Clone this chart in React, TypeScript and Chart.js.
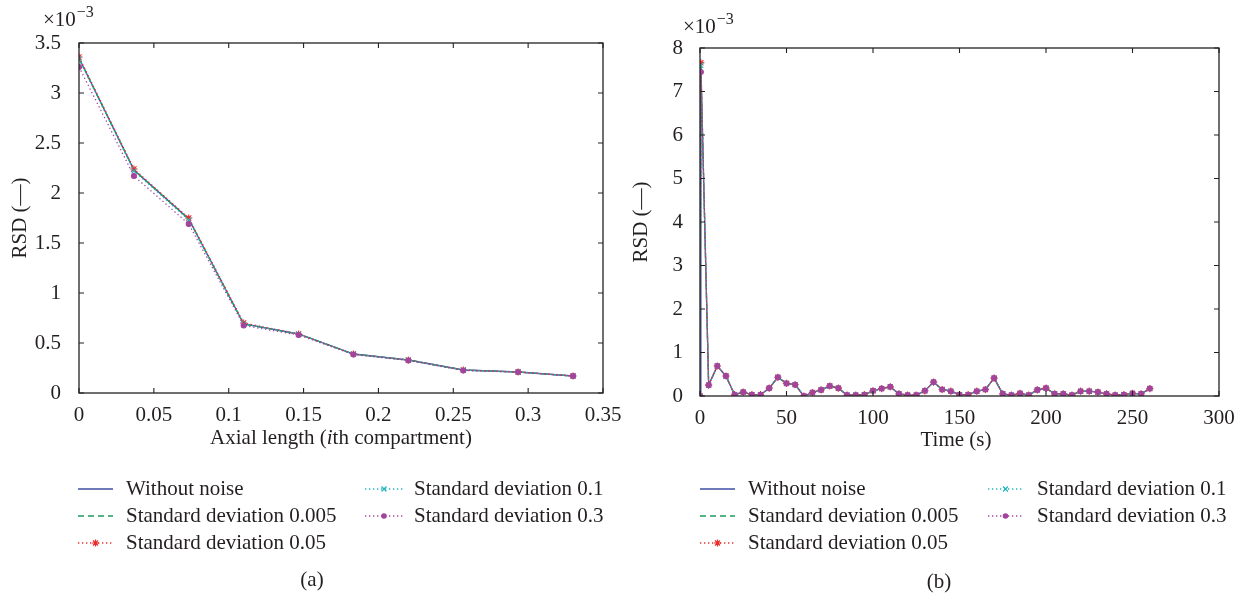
import React, { useEffect, useRef } from "react";
import { Chart, registerables } from "chart.js";

Chart.register(...registerables);

const SERIF = '"Liberation Serif", "Times New Roman", Times, serif';
const INK = "#231f20";

// ---------- shared series names ----------
const seriesNames = [
  "Without noise",
  "Standard deviation 0.005",
  "Standard deviation 0.05",
  "Standard deviation 0.1",
  "Standard deviation 0.3",
];

// ---------- panel (a): RSD (x10^-3) vs axial length ----------
const axialLength = [0, 0.0367, 0.0733, 0.11, 0.1467, 0.1833, 0.22, 0.2567, 0.2933, 0.33];
const rsdA_withoutNoise = [3.35, 2.23, 1.74, 0.69, 0.59, 0.39, 0.33, 0.23, 0.21, 0.17];
const rsdA_sd0005 = [3.35, 2.23, 1.74, 0.69, 0.59, 0.39, 0.33, 0.23, 0.21, 0.17];
const rsdA_sd005 = [3.36, 2.24, 1.75, 0.7, 0.59, 0.39, 0.33, 0.23, 0.21, 0.17];
const rsdA_sd01 = [3.34, 2.22, 1.73, 0.69, 0.59, 0.39, 0.33, 0.23, 0.21, 0.17];
const rsdA_sd03 = [3.26, 2.17, 1.69, 0.675, 0.58, 0.385, 0.325, 0.225, 0.21, 0.17];
const xTickValuesA = [0, 0.05, 0.1, 0.15, 0.2, 0.25, 0.3, 0.35];
const xTickLabelsA = ["0", "0.05", "0.1", "0.15", "0.2", "0.25", "0.3", "0.35"];
const yTickValuesA = [0, 0.5, 1, 1.5, 2, 2.5, 3, 3.5];
const yTickLabelsA = ["0", "0.5", "1", "1.5", "2", "2.5", "3", "3.5"];

// ---------- panel (b): RSD (x10^-3) vs time ----------
const timeS = [
  0, 0.5, 5, 10, 15, 20, 25, 30, 35, 40, 45, 50, 55, 60, 65, 70, 75, 80, 85, 90, 95, 100,
  105, 110, 115, 120, 125, 130, 135, 140, 145, 150, 155, 160, 165, 170, 175, 180, 185, 190,
  195, 200, 205, 210, 215, 220, 225, 230, 235, 240, 245, 250, 255, 260,
];
const rsdB_tail = [
  0.25, 0.69, 0.46, 0.03, 0.09, 0.03, 0.03, 0.18, 0.43, 0.29, 0.26, 0.0, 0.08, 0.14, 0.23,
  0.18, 0.02, 0.02, 0.03, 0.12, 0.17, 0.21, 0.05, 0.02, 0.02, 0.12, 0.32, 0.15, 0.11, 0.03,
  0.03, 0.11, 0.15, 0.41, 0.05, 0.02, 0.06, 0.02, 0.14, 0.18, 0.05, 0.05, 0.02, 0.11, 0.11,
  0.09, 0.05, 0.02, 0.03, 0.06, 0.05, 0.17,
];
const rsdB_withoutNoise = [0, 7.62, ...rsdB_tail];
const rsdB_sd0005 = [0, 7.62, ...rsdB_tail];
const rsdB_sd005 = [0, 7.66, ...rsdB_tail];
const rsdB_sd01 = [0, 7.6, ...rsdB_tail];
const rsdB_sd03 = [0, 7.45, ...rsdB_tail];
const xTickValuesB = [0, 50, 100, 150, 200, 250, 300];
const xTickLabelsB = ["0", "50", "100", "150", "200", "250", "300"];
const yTickValuesB = [0, 1, 2, 3, 4, 5, 6, 7, 8];
const yTickLabelsB = ["0", "1", "2", "3", "4", "5", "6", "7", "8"];

// ---------- styles ----------
const seriesStyles = [
  { color: "#3c4fa3", dash: [] as number[], marker: "none", radius: 0, order: 4 },
  { color: "#1f9a5c", dash: [6, 4], marker: "none", radius: 0, order: 3 },
  { color: "#ee2b2b", dash: [1.3, 2.7], marker: "star", radius: 3.6, order: 2 },
  { color: "#1fb5bd", dash: [1.3, 2.7], marker: "crossRot", radius: 3.4, order: 1 },
  { color: "#a3449c", dash: [1.3, 2.7], marker: "circle", radius: 2.5, order: 0 },
];

type Seg = { text: string; italic?: boolean };
type Spec = {
  x: number[];
  ys: number[][];
  xMin: number;
  xMax: number;
  yMin: number;
  yMax: number;
  xTickValues: number[];
  xTickLabels: string[];
  yTickValues: number[];
  yTickLabels: string[];
  area: { left: number; top: number; right: number; bottom: number };
  yPad: number;
  yTitle: { text: string; x: number; y: number };
  xTitle: { segs: Seg[]; x: number; y: number };
  exp: { x: number; y: number };
  legendCols: { l0: number; l1: number; tx: number }[];
  legendRows: number[];
  caption: { text: string; x: number; y: number };
};

const W = 1247;
const H = 595;

function drawMarker(ctx: CanvasRenderingContext2D, style: string, x: number, y: number, color: string) {
  ctx.save();
  ctx.setLineDash([]);
  ctx.strokeStyle = color;
  ctx.fillStyle = color;
  ctx.lineWidth = 1.2;
  const r = 3.5;
  const d = r * 0.7071;
  if (style === "circle") {
    ctx.beginPath();
    ctx.arc(x, y, 2.8, 0, Math.PI * 2);
    ctx.fill();
  } else if (style === "crossRot" || style === "star") {
    ctx.beginPath();
    ctx.moveTo(x - d, y - d);
    ctx.lineTo(x + d, y + d);
    ctx.moveTo(x - d, y + d);
    ctx.lineTo(x + d, y - d);
    if (style === "star") {
      ctx.moveTo(x - r, y);
      ctx.lineTo(x + r, y);
      ctx.moveTo(x, y - r);
      ctx.lineTo(x, y + r);
    }
    ctx.stroke();
  }
  ctx.restore();
}

function decorPlugin(spec: Spec) {
  return {
    id: "decor",
    afterDraw(chart: any) {
      const ctx: CanvasRenderingContext2D = chart.ctx;
      const { left, right, top, bottom } = chart.chartArea;
      const xs = chart.scales.x;
      const ys = chart.scales.y;
      ctx.save();
      // box
      ctx.strokeStyle = "#222";
      ctx.lineWidth = 1.3;
      ctx.setLineDash([]);
      ctx.strokeRect(left, top, right - left, bottom - top);
      // inward ticks on all sides
      ctx.lineWidth = 1.1;
      ctx.beginPath();
      const tl = 5;
      spec.xTickValues.forEach((v) => {
        const px = xs.getPixelForValue(v);
        ctx.moveTo(px, bottom);
        ctx.lineTo(px, bottom - tl);
        ctx.moveTo(px, top);
        ctx.lineTo(px, top + tl);
      });
      spec.yTickValues.forEach((v) => {
        const py = ys.getPixelForValue(v);
        ctx.moveTo(left, py);
        ctx.lineTo(left + tl, py);
        ctx.moveTo(right, py);
        ctx.lineTo(right - tl, py);
      });
      ctx.stroke();

      ctx.fillStyle = INK;
      // y title
      ctx.save();
      ctx.translate(spec.yTitle.x, spec.yTitle.y);
      ctx.rotate(-Math.PI / 2);
      ctx.font = `21px ${SERIF}`;
      ctx.textAlign = "center";
      ctx.textBaseline = "middle";
      ctx.fillText(spec.yTitle.text, 0, 0);
      ctx.restore();

      // x title with mixed fonts
      ctx.textBaseline = "middle";
      ctx.textAlign = "left";
      let total = 0;
      spec.xTitle.segs.forEach((s) => {
        ctx.font = `${s.italic ? "italic " : ""}21px ${SERIF}`;
        total += ctx.measureText(s.text).width;
      });
      let cx = spec.xTitle.x - total / 2;
      spec.xTitle.segs.forEach((s) => {
        ctx.font = `${s.italic ? "italic " : ""}21px ${SERIF}`;
        ctx.fillText(s.text, cx, spec.xTitle.y);
        cx += ctx.measureText(s.text).width;
      });

      // exponent label
      ctx.textBaseline = "alphabetic";
      ctx.font = `21px ${SERIF}`;
      ctx.fillText("\u00d710", spec.exp.x, spec.exp.y);
      const ew = ctx.measureText("\u00d710").width;
      ctx.font = `16px ${SERIF}`;
      ctx.fillText("\u22123", spec.exp.x + ew + 1, spec.exp.y - 9);

      // legend
      seriesNames.forEach((name, i) => {
        const col = spec.legendCols[i < 3 ? 0 : 1];
        const y = spec.legendRows[i < 3 ? i : i - 3];
        const st = seriesStyles[i];
        ctx.save();
        ctx.strokeStyle = st.color;
        ctx.lineWidth = 1.3;
        ctx.setLineDash(st.dash);
        ctx.beginPath();
        ctx.moveTo(col.l0, y);
        ctx.lineTo(col.l1, y);
        ctx.stroke();
        ctx.restore();
        if (st.marker !== "none") drawMarker(ctx, st.marker, (col.l0 + col.l1) / 2, y, st.color);
        ctx.fillStyle = INK;
        ctx.font = `21px ${SERIF}`;
        ctx.textBaseline = "middle";
        ctx.textAlign = "left";
        ctx.fillText(name, col.tx, y);
      });

      // caption
      ctx.textAlign = "center";
      ctx.textBaseline = "middle";
      ctx.font = `21px ${SERIF}`;
      ctx.fillText(spec.caption.text, spec.caption.x, spec.caption.y);
      ctx.restore();
    },
  };
}

function makeConfig(spec: Spec): any {
  const datasets = spec.ys.map((vals, i) => {
    const st = seriesStyles[i];
    return {
      label: seriesNames[i],
      data: spec.x.map((xv, k) => ({ x: xv, y: vals[k] })),
      borderColor: st.color,
      backgroundColor: st.color,
      borderDash: st.dash,
      borderWidth: 1.3,
      pointStyle: st.marker === "none" ? false : st.marker,
      pointRadius: st.radius,
      pointBackgroundColor: st.color,
      pointBorderColor: st.color,
      pointBorderWidth: 1.1,
      fill: false,
      tension: 0,
      order: st.order,
    };
  });
  const tickFont = { family: SERIF, size: 21 };
  return {
    type: "line",
    data: { datasets },
    options: {
      animation: false,
      responsive: false,
      maintainAspectRatio: false,
      events: [],
      layout: {
        padding: { left: 0, top: spec.area.top, right: W - spec.area.right, bottom: 0 },
      },
      plugins: {
        legend: { display: false },
        tooltip: { enabled: false },
        title: { display: false },
      },
      scales: {
        x: {
          type: "linear",
          min: spec.xMin,
          max: spec.xMax,
          grid: { display: false },
          border: { display: false },
          afterFit: (s: any) => {
            s.height = H - spec.area.bottom;
          },
          afterBuildTicks: (s: any) => {
            s.ticks = spec.xTickValues.map((v) => ({ value: v }));
          },
          ticks: {
            autoSkip: false,
            maxRotation: 0,
            minRotation: 0,
            padding: 2,
            font: tickFont,
            color: INK,
            callback: (v: number) => spec.xTickLabels[spec.xTickValues.indexOf(v)],
          },
        },
        y: {
          type: "linear",
          min: spec.yMin,
          max: spec.yMax,
          grid: { display: false },
          border: { display: false },
          afterFit: (s: any) => {
            s.width = spec.area.left;
          },
          afterBuildTicks: (s: any) => {
            s.ticks = spec.yTickValues.map((v) => ({ value: v }));
          },
          ticks: {
            autoSkip: false,
            padding: spec.yPad,
            font: tickFont,
            color: INK,
            callback: (v: number) => spec.yTickLabels[spec.yTickValues.indexOf(v)],
          },
        },
      },
    },
    plugins: [decorPlugin(spec)],
  };
}

const specA: Spec = {
  x: axialLength,
  ys: [rsdA_withoutNoise, rsdA_sd0005, rsdA_sd005, rsdA_sd01, rsdA_sd03],
  xMin: 0,
  xMax: 0.35,
  yMin: 0,
  yMax: 3.5,
  xTickValues: xTickValuesA,
  xTickLabels: xTickLabelsA,
  yTickValues: yTickValuesA,
  yTickLabels: yTickLabelsA,
  area: { left: 79, top: 43, right: 603, bottom: 393 },
  yPad: 10,
  yTitle: { text: "RSD (\u2014)", x: 20, y: 218 },
  xTitle: {
    segs: [{ text: "Axial length (" }, { text: "i", italic: true }, { text: "th compartment)" }],
    x: 341,
    y: 438,
  },
  exp: { x: 43, y: 26 },
  legendCols: [
    { l0: 78, l1: 113, tx: 126 },
    { l0: 365, l1: 403, tx: 414 },
  ],
  legendRows: [489, 516, 543],
  caption: { text: "(a)", x: 312, y: 580 },
};

const specB: Spec = {
  x: timeS,
  ys: [rsdB_withoutNoise, rsdB_sd0005, rsdB_sd005, rsdB_sd01, rsdB_sd03],
  xMin: 0,
  xMax: 300,
  yMin: 0,
  yMax: 8,
  xTickValues: xTickValuesB,
  xTickLabels: xTickLabelsB,
  yTickValues: yTickValuesB,
  yTickLabels: yTickLabelsB,
  area: { left: 700, top: 48, right: 1219, bottom: 396 },
  yPad: 9,
  yTitle: { text: "RSD (\u2014)", x: 641, y: 222 },
  xTitle: { segs: [{ text: "Time (s)" }], x: 956, y: 440 },
  exp: { x: 683, y: 33 },
  legendCols: [
    { l0: 700, l1: 735, tx: 748 },
    { l0: 988, l1: 1023, tx: 1037 },
  ],
  legendRows: [489, 516, 543],
  caption: { text: "(b)", x: 939, y: 582 },
};

export default function App() {
  const refA = useRef<HTMLCanvasElement | null>(null);
  const refB = useRef<HTMLCanvasElement | null>(null);

  useEffect(() => {
    document.body.style.margin = "0";
    const charts: Chart[] = [];
    if (refA.current) charts.push(new Chart(refA.current, makeConfig(specA)));
    if (refB.current) charts.push(new Chart(refB.current, makeConfig(specB)));
    return () => {
      charts.forEach((c) => c.destroy());
    };
  }, []);

  const canvasStyle: React.CSSProperties = {
    position: "absolute",
    left: 0,
    top: 0,
    width: W,
    height: H,
  };

  return (
    <div style={{ position: "fixed", left: 0, top: 0, width: W, height: H, background: "#fff" }}>
      <canvas ref={refA} width={W} height={H} style={canvasStyle} />
      <canvas ref={refB} width={W} height={H} style={canvasStyle} />
    </div>
  );
}
